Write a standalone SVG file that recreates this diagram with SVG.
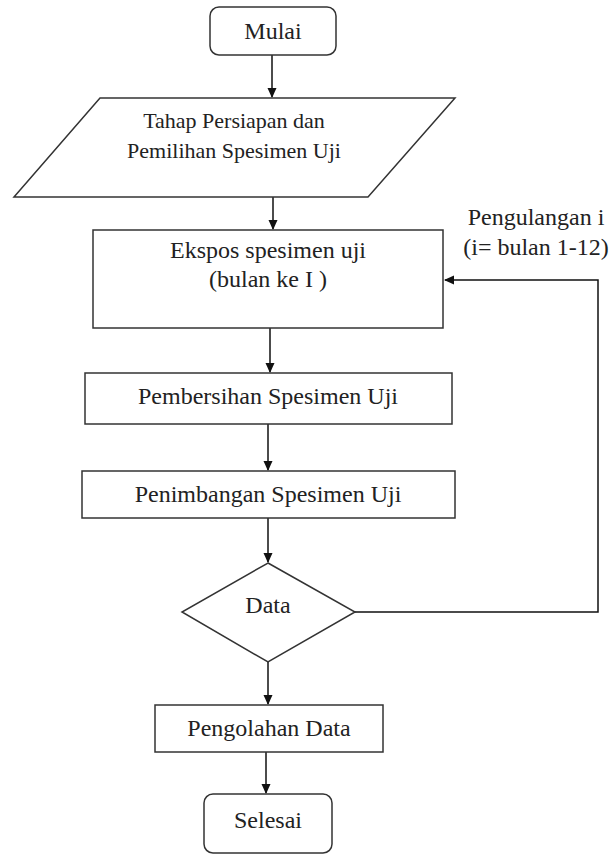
<svg xmlns="http://www.w3.org/2000/svg" width="611" height="854" viewBox="0 0 611 854">
<style>
.n{fill:#fff;stroke:#333;stroke-width:1.5}
.t{font-family:'Liberation Serif','Times New Roman',serif;font-size:24px;fill:#222;text-anchor:middle}
.s{font-size:22px}
.c{fill:none;stroke:#111;stroke-width:1.5}
</style>
<defs>
<marker id="a" markerWidth="10" markerHeight="10" refX="9" refY="5" orient="auto" markerUnits="userSpaceOnUse">
<path d="M0,0.5 L10,5 L0,9.5 Z" fill="#111"/>
</marker>
</defs>
<rect width="611" height="854" fill="#fff"/>
<g id="connectors">
<path class="c" d="M272,55 V97" marker-end="url(#a)"/>
<path class="c" d="M273,197 V229" marker-end="url(#a)"/>
<path class="c" d="M270,328 V372" marker-end="url(#a)"/>
<path class="c" d="M268,424 V470" marker-end="url(#a)"/>
<path class="c" d="M268,518 V562" marker-end="url(#a)"/>
<path class="c" d="M268,662 V704" marker-end="url(#a)"/>
<path class="c" d="M266,752 V793" marker-end="url(#a)"/>
<path class="c" d="M355,612 H598 V280 H445" marker-end="url(#a)"/>
<text class="t" x="536" y="225" font-family="Liberation Serif, serif">Pengulangan i</text>
<text class="t" x="536" y="255" font-family="Liberation Serif, serif">(i= bulan 1-12)</text>
</g>
<g id="mulai">
<rect class="n" x="210" y="7" width="126" height="48" rx="9"/>
<text class="t" x="273" y="39" font-family="Liberation Serif, serif">Mulai</text>
</g>
<g id="persiapan">
<polygon class="n" points="100,98 455,98 368,197 14,197"/>
<text class="t s" x="234" y="128" font-family="Liberation Serif, serif">Tahap Persiapan dan</text>
<text class="t s" x="234" y="158" font-family="Liberation Serif, serif">Pemilihan Spesimen Uji</text>
</g>
<g id="ekspos">
<rect class="n" x="93" y="230" width="350" height="98"/>
<text class="t" x="268" y="258" font-family="Liberation Serif, serif">Ekspos spesimen uji</text>
<text class="t" x="268" y="287" font-family="Liberation Serif, serif">(bulan ke I )</text>
</g>
<g id="pembersihan">
<rect class="n" x="85" y="373" width="367" height="51"/>
<text class="t" x="268" y="404" font-family="Liberation Serif, serif">Pembersihan Spesimen Uji</text>
</g>
<g id="penimbangan">
<rect class="n" x="82" y="471" width="373" height="47"/>
<text class="t" x="268" y="502" font-family="Liberation Serif, serif">Penimbangan Spesimen Uji</text>
</g>
<g id="data">
<polygon class="n" points="268,563 355,612 268,662 182,612"/>
<text class="t" x="268" y="613" font-family="Liberation Serif, serif">Data</text>
</g>
<g id="pengolahan">
<rect class="n" x="155" y="705" width="228" height="47"/>
<text class="t" x="269" y="736" font-family="Liberation Serif, serif">Pengolahan Data</text>
</g>
<g id="selesai">
<rect class="n" x="204" y="794" width="128" height="59" rx="9"/>
<text class="t" x="268" y="828" font-family="Liberation Serif, serif">Selesai</text>
</g>
</svg>
